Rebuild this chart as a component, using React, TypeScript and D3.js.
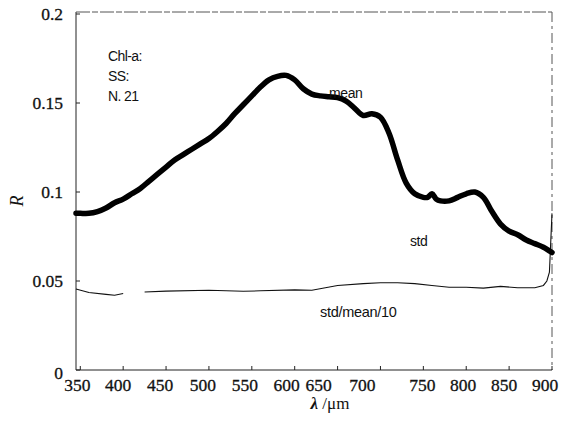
import React from 'react';
import * as d3 from 'd3';

// mean reflectance
const meanWavelength = [345, 350, 360, 370, 380, 390, 400, 410, 420, 430, 440, 450, 460, 470, 480, 490, 500, 510, 520, 530, 540, 550, 560, 570, 580, 590, 600, 610, 620, 630, 640, 650, 660, 670, 680, 690, 700, 710, 720, 730, 740, 750, 755, 760, 765, 770, 780, 790, 800, 810, 820, 830, 840, 850, 860, 870, 880, 890, 900];
const meanValues = [0.088, 0.088, 0.088, 0.089, 0.091, 0.094, 0.096, 0.099, 0.102, 0.106, 0.110, 0.114, 0.118, 0.121, 0.124, 0.127, 0.130, 0.134, 0.1385, 0.144, 0.149, 0.154, 0.159, 0.163, 0.165, 0.1655, 0.163, 0.158, 0.155, 0.154, 0.1535, 0.153, 0.151, 0.147, 0.143, 0.144, 0.142, 0.133, 0.118, 0.105, 0.099, 0.097, 0.097, 0.099, 0.096, 0.095, 0.095, 0.097, 0.099, 0.100, 0.097, 0.089, 0.082, 0.078, 0.076, 0.073, 0.071, 0.069, 0.066];

// thin curve (std/mean/10), null = gap in the trace
const stdWavelength = [345, 360, 380, 390, 400, 410, 425, 450, 500, 520, 540, 560, 600, 620, 650, 680, 700, 720, 740, 760, 780, 800, 820, 840, 860, 880, 890, 894, 897, 900];
const stdValues = [0.0455, 0.0435, 0.0425, 0.042, 0.043, null, 0.0438, 0.0443, 0.0448, 0.0445, 0.0442, 0.0445, 0.045, 0.0448, 0.0475, 0.0485, 0.049, 0.049, 0.0485, 0.0475, 0.0465, 0.0465, 0.046, 0.047, 0.0462, 0.0462, 0.0475, 0.05, 0.055, 0.088];

const xTicks = [350, 400, 450, 500, 550, 600, 650, 700, 750, 800, 850, 900];
const yTicks = [0, 0.05, 0.1, 0.15, 0.2];
const yTickLabels = ['0', '0.05', '0.1', '0.15', '0.2'];
const notes = ['Chl-a:', 'SS:', 'N. 21'];

// the printed x labels sit a little off their ticks (px nudges)
const xLabelNudge = [-3, -5, -6, -6, -7, -8, -19, -18, -1, -3, -5, -7];

const W = 572;
const H = 421;
const left = 76, right = 552, top = 12, bottom = 370;

export default function App() {
  const x = d3.scaleLinear().domain([345, 900]).range([left, right]);
  const y = d3.scaleLinear().domain([0, 0.2]).range([bottom, top + 2]);

  const meanPts = meanWavelength.map((w, i) => [w, meanValues[i]] as [number, number]);
  const stdPts = stdWavelength.map((w, i) => [w, stdValues[i]] as [number, number | null]);

  const meanLine = d3.line<[number, number]>()
    .x(d => x(d[0]))
    .y(d => y(d[1]))
    .curve(d3.curveCatmullRom);

  const stdLine = d3.line<[number, number | null]>()
    .defined(d => d[1] !== null)
    .x(d => x(d[0]))
    .y(d => y(d[1] as number))
    .curve(d3.curveLinear);

  const serif = '"Liberation Serif", "DejaVu Serif", serif';
  const sans = '"Liberation Sans", Arial, sans-serif';

  return (
    <svg width={W} height={H} style={{ position: 'absolute', left: 0, top: 0, background: '#fff' }}>
      {/* frame */}
      <line x1={left} y1={top} x2={left} y2={bottom} stroke="#222" strokeWidth={1} />
      <line x1={left} y1={bottom} x2={right} y2={bottom} stroke="#222" strokeWidth={1} />
      <line x1={left} y1={top} x2={right} y2={top} stroke="#555" strokeWidth={1} strokeDasharray="14 2 6 2" />
      <line x1={right} y1={top} x2={right} y2={bottom} stroke="#555" strokeWidth={1} strokeDasharray="10 4 3 4" />

      {/* x ticks */}
      {xTicks.map((t, i) => (
        <g key={'x' + t}>
          <line x1={x(t)} x2={x(t)} y1={bottom} y2={bottom - 4} stroke="#222" />
          <text x={x(t) + xLabelNudge[i]} y={391} textAnchor="middle" fontFamily={serif} fontSize={17.5} stroke="#111" strokeWidth={0.3} fill="#111">{t}</text>
        </g>
      ))}

      {/* y ticks */}
      {yTicks.map((t, i) => (
        <g key={'y' + t}>
          <line x1={left} x2={left + 4} y1={y(t)} y2={y(t)} stroke="#222" />
          <text x={63} y={y(t) + 6 + (t === 0 ? 3 : 0)} textAnchor="end" fontFamily={serif} fontSize={17.5} stroke="#111" strokeWidth={0.3} fill="#111">{yTickLabels[i]}</text>
        </g>
      ))}

      {/* axis titles */}
      <text x={330} y={409} textAnchor="middle" fontFamily={serif} fontSize={17} fill="#111">
        <tspan fontWeight="bold" fontStyle="italic">λ</tspan>
        <tspan> /μm</tspan>
      </text>
      <text transform="translate(23,201) rotate(-90)" textAnchor="middle" fontFamily={serif} fontSize={18} fontStyle="italic" fill="#111">R</text>

      {/* curves */}
      <path d={stdLine(stdPts) || ''} fill="none" stroke="#111" strokeWidth={1.1} />
      <path d={meanLine(meanPts) || ''} fill="none" stroke="#000" strokeWidth={5.5} strokeLinejoin="round" strokeLinecap="round" />

      {/* annotations */}
      {notes.map((n, i) => (
        <text key={n} x={108} y={61 + i * 20} fontFamily={sans} fontSize={14} letterSpacing={-0.6} fill="#111">{n}</text>
      ))}
      <text x={329} y={98} fontFamily={sans} fontSize={14} letterSpacing={-0.4} fill="#111">mean</text>
      <text x={410} y={246} fontFamily={sans} fontSize={14} letterSpacing={-0.4} fill="#111">std</text>
      <text x={320} y={317} fontFamily={sans} fontSize={14.5} letterSpacing={-0.3} fill="#111">std/mean/10</text>
    </svg>
  );
}
